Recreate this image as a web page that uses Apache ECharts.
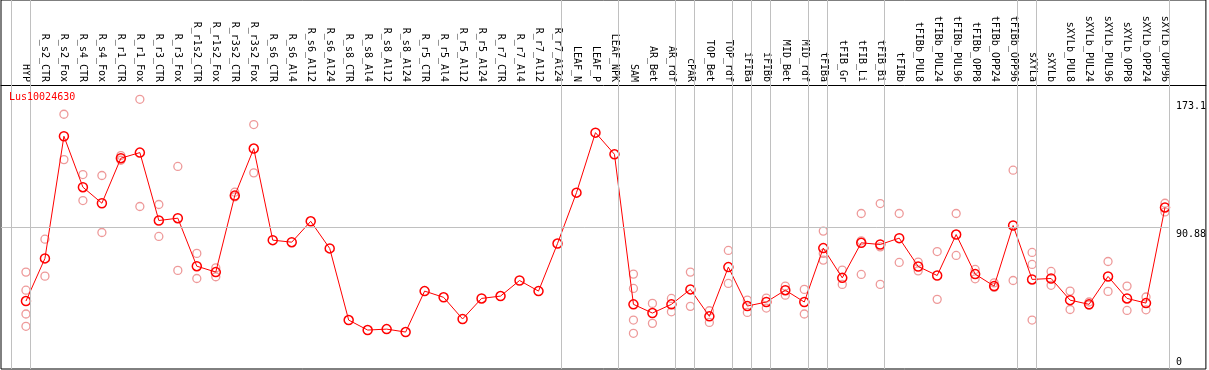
<!DOCTYPE html>
<html>
<head>
<meta charset="utf-8">
<script src="https://cdn.jsdelivr.net/npm/echarts@6/dist/echarts.min.js"></script>
<style>
html,body{margin:0;padding:0;background:#fff;}
#chart{width:1209px;height:370px;}
</style>
</head>
<body>
<div id="chart"></div>
<script>
// ---------- data ----------
const geneName = 'Lus10024630';
const categories = ['HYP','R_s2_CTR','R_s2_Fox','R_s4_CTR','R_s4_Fox','R_r1_CTR','R_r1_Fox','R_r3_CTR','R_r3_Fox','R_r1s2_CTR','R_r1s2_Fox','R_r3s2_CTR','R_r3s2_Fox','R_s6_CTR','R_s6_Al4','R_s6_Al12','R_s6_Al24','R_s8_CTR','R_s8_Al4','R_s8_Al12','R_s8_Al24','R_r5_CTR','R_r5_Al4','R_r5_Al12','R_r5_Al24','R_r7_CTR','R_r7_Al4','R_r7_Al12','R_r7_Al24','LEAF_N','LEAF_P','LEAF_NPK','SAM','AR_Bet','AR_rdf','cPAR','TOP_Bet','TOP_rdf','iFIBa','iFIBb','MID_Bet','MID_rdf','tFIBa','tFIB_Gr','tFIB_Li','tFIB_Bi','tFIBb','tFIBb_PUL8','tFIBb_PUL24','tFIBb_PUL96','tFIBb_OPP8','tFIBb_OPP24','tFIBb_OPP96','sXYLa','sXYLb','sXYLb_PUL8','sXYLb_PUL24','sXYLb_PUL96','sXYLb_OPP8','sXYLb_OPP24','sXYLb_OPP96'];
const meanValues = [43.6, 71.0, 149.4, 116.7, 106.4, 135.3, 138.9, 95.3, 96.8, 66.0, 62.2, 111.3, 141.5, 82.7, 81.4, 94.8, 77.4, 31.4, 25.0, 25.6, 23.7, 50.0, 46.0, 32.1, 45.3, 46.8, 56.8, 50.0, 80.5, 113.2, 151.7, 137.8, 41.5, 35.9, 41.5, 51.1, 33.8, 65.4, 40.4, 43.0, 50.6, 43.0, 77.6, 58.5, 81.0, 79.9, 84.0, 65.8, 60.0, 86.3, 60.9, 53.2, 92.1, 57.5, 58.1, 44.2, 41.5, 59.4, 45.3, 42.3, 103.7];
const replicateValues = [
  [62.2, 50.6, 35.3, 27.4], [83.3, 59.6], [163.5, 134.4], [124.8, 108.1], [124.2, 87.6],
  [137.0, 134.0], [173.1, 104.3], [105.6, 85.1], [130.0, 63.3], [74.2, 58.1],
  [64.9, 59.2], [113.5, 110.5], [156.9, 125.9],
  [], [], [], [], [], [], [], [], [], [], [], [], [], [], [], [], [], [], [],
  [60.9, 51.7, 31.4, 22.9], [42.1, 29.3], [45.3, 36.7], [62.2, 40.2], [37.4, 29.9],
  [76.1, 54.9], [44.2, 36.3], [45.5, 39.1], [53.2, 47.4], [51.1, 35.3],
  [88.5, 74.2, 69.9], [63.5, 54.3], [99.8, 82.3, 60.7], [106.2, 78.4, 54.3], [99.8, 68.4],
  [68.6, 63.0], [75.4, 44.7], [99.8, 72.9], [63.9, 57.9], [55.3, 52.4], [127.6, 56.8],
  [74.8, 67.1, 31.4], [62.6, 53.7], [50.0, 38.2], [43.0, 41.0], [69.0, 49.8],
  [53.2, 37.6], [46.2, 38.0], [106.4, 100.8]
];
const yTickValues = [0, 90.88, 173.1];
const referenceLine = 90.88;
const groupEndsAfter = [-1, 0, 28, 31, 34, 35, 37, 38, 39, 41, 42, 45, 52, 53, 60];

// ---------- build ----------
const mono = 'DejaVu Sans Mono';
const pxPerCat = 19.017;
const firstX = 26, gridL = 1, gridR = 1208;
const xMin = -(firstX - gridL) / pxPerCat;
const xMax = xMin + (gridR - gridL) / pxPerCat;
const yMax = 369 / 1.558;

const meanData = meanValues.map((v, i) => [i, v]);
const repData = [];
replicateValues.forEach((arr, i) => arr.forEach(v => repData.push([i, v])));

const sepLines = groupEndsAfter.map(i => ({ xAxis: i + 0.2 }));
const lastSep = groupEndsAfter[groupEndsAfter.length - 1] + 0.2;
sepLines.push([{ coord: [xMin, referenceLine] }, { coord: [lastSep, referenceLine] }]);

const chart = echarts.init(document.getElementById('chart'), null, { renderer: 'canvas' });
chart.setOption({
  animation: false,
  backgroundColor: '#fff',
  title: {
    text: geneName, left: 9, top: 92, padding: 0,
    textStyle: { color: '#ff0000', fontSize: 10, fontWeight: 'normal', fontFamily: mono }
  },
  grid: {
    left: gridL, right: 1209 - gridR, top: 0, bottom: 1,
    show: true, borderColor: '#000', borderWidth: 1, backgroundColor: 'transparent'
  },
  xAxis: {
    type: 'value', position: 'top', offset: -85,
    min: xMin, max: xMax,
    axisLine: { show: true, onZero: false, lineStyle: { color: '#000', width: 1 } },
    axisTick: { show: false },
    splitLine: { show: false },
    axisLabel: {
      customValues: categories.map((c, i) => i),
      formatter: v => categories[Math.round(v)] || '',
      rotate: 90, margin: 3, color: '#000',
      fontSize: 10, fontFamily: mono
    }
  },
  yAxis: {
    type: 'value', position: 'right', offset: -31,
    min: 0, max: yMax,
    axisLine: { show: false }, axisTick: { show: false }, splitLine: { show: false },
    axisLabel: {
      customValues: yTickValues, margin: 1, color: '#000',
      fontSize: 10, fontFamily: mono, verticalAlign: 'middle', align: 'left',
      formatter: v => (v === 0 ? '{b|' + v + '}' : '{a|' + v + '}'),
      rich: {
        a: { padding: [14, 0, 0, 0], fontSize: 10, fontFamily: mono, color: '#000' },
        b: { padding: [0, 0, 14, 0], fontSize: 10, fontFamily: mono, color: '#000' }
      }
    }
  },
  series: [
    {
      type: 'line', data: [], silent: true, z: 1,
      markLine: {
        silent: true, symbol: 'none', animation: false,
        label: { show: false },
        lineStyle: { color: '#c0c0c0', width: 1, type: 'solid' },
        data: sepLines
      }
    },
    {
      type: 'scatter', data: repData, z: 2,
      symbol: 'circle', symbolSize: 8,
      itemStyle: { color: 'rgba(0,0,0,0)', borderColor: '#ee9a9a', borderWidth: 1.3, opacity: 1 }
    },
    {
      type: 'line', data: meanData, z: 3,
      symbol: 'circle', symbolSize: 9, showAllSymbol: true,
      lineStyle: { color: '#ff0000', width: 1 },
      itemStyle: { color: 'rgba(0,0,0,0)', borderColor: '#ff0000', borderWidth: 1.5 }
    }
  ]
});
</script>
</body>
</html>
